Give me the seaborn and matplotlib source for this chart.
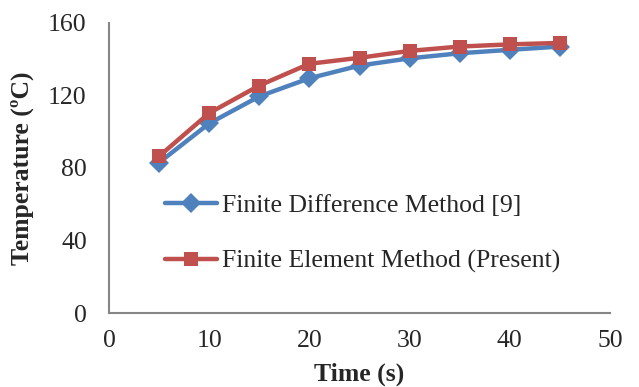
import matplotlib
matplotlib.use("Agg")
import matplotlib.pyplot as plt
import seaborn as sns
import pandas as pd

time_s = [5, 10, 15, 20, 25, 30, 35, 40, 45]
fdm = [83, 104.6, 119.5, 129.5, 136.5, 140.5, 143.3, 145.2, 147]
fem = [86.5, 110.3, 125.5, 137.5, 140.8, 144.6, 147, 148.2, 149]
series_names = ["Finite Difference Method [9]", "Finite Element Method (Present)"]

df = pd.concat([
    pd.DataFrame({"Time": time_s, "Temp": fdm, "Series": series_names[0]}),
    pd.DataFrame({"Time": time_s, "Temp": fem, "Series": series_names[1]}),
])

sns.set_style("white")
plt.rcParams["font.family"] = ["Liberation Serif", "DejaVu Serif"]

fig = plt.figure(figsize=(6.39, 3.87), dpi=100)
ax = fig.add_axes([0.1706, 0.1912, 0.784, 0.7494])

palette = {series_names[0]: "#4F81BD", series_names[1]: "#C0504D"}
sns.lineplot(data=df, x="Time", y="Temp", hue="Series", style="Series",
             markers={series_names[0]: "D", series_names[1]: "s"},
             dashes=False, palette=palette, linewidth=3.2, markersize=10,
             markeredgewidth=0, ax=ax)

ax.set_xlim(0, 50)
ax.set_ylim(0, 160)
ax.set_xticks([0, 10, 20, 30, 40, 50])
ax.set_yticks([0, 40, 80, 120, 160])
ax.tick_params(axis="both", direction="in", length=5, width=1.2, color="#868686",
               labelsize=18.5)
ax.tick_params(axis="y", pad=16)
ax.tick_params(axis="x", pad=12)
for s in ["top", "right"]:
    ax.spines[s].set_visible(False)
for s in ["left", "bottom"]:
    ax.spines[s].set_color("#868686")
    ax.spines[s].set_linewidth(1.5)

ax.set_xlabel("Time (s)", fontsize=18.5, fontweight="bold", labelpad=8)
ax.set_ylabel("Temperature (ºC)", fontsize=18.5, fontweight="bold", labelpad=10)

leg = ax.legend(loc="upper left", bbox_to_anchor=(0.112, 0.41), frameon=False,
                fontsize=18.5, handlelength=2.0, handletextpad=0.2, labelspacing=1.27,
                borderaxespad=0, borderpad=0)
for h in leg.legend_handles:
    h.set_linewidth(3.2)

fig.savefig("out.png", dpi=100)
